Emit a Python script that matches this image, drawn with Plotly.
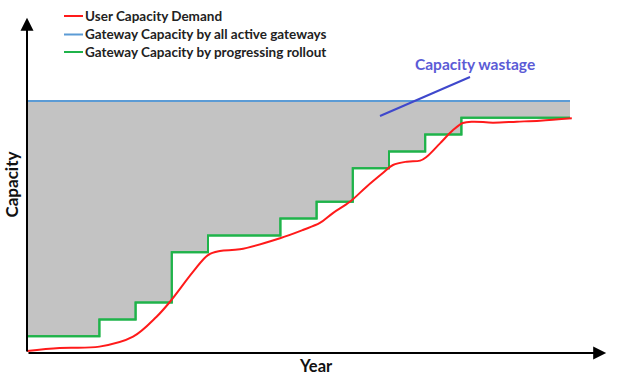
import plotly.graph_objects as go

# ---- data (x in years, y in capacity units) ----
rollout_years = [0, 2, 3, 4, 5, 7, 8, 9, 10, 11, 12, 15]
rollout_capacity = [1, 2, 3, 6, 7, 8, 9, 11, 12, 13, 14, 14]

full_years = [0, 15]
full_capacity = [15, 15]

demand_years = [0, 0.9, 2.0, 2.93, 3.58, 3.95, 4.59, 5.0, 5.33, 5.88, 6.99, 7.62, 8.09,
                8.45, 8.92, 9.38, 9.83, 10.11, 10.49, 10.86, 11.04, 11.41, 11.77,
                12.04, 12.32, 12.87, 13.53, 14.17, 15.05]
demand_capacity = [0.12, 0.3, 0.38, 0.97, 2.16, 3.05, 4.84, 5.83, 6.07, 6.17, 6.83, 7.32, 7.74,
                   8.33, 9.0, 9.9, 10.71, 11.19, 11.39, 11.45, 11.68, 12.48, 13.27,
                   13.69, 13.77, 13.71, 13.77, 13.83, 13.97]

legend_labels = ["User Capacity Demand",
                 "Gateway Capacity by all active gateways",
                 "Gateway Capacity by progressing rollout"]

RED = "#ff1a1a"
BLUE = "#5b9bd5"
GREEN = "#1fb34a"
GRAY = "#c3c3c3"

W, H = 622, 378
L, R, T, B = 27, 9, 10, 25
pw, ph = W - L - R, H - T - B


def px(xp):
    return (xp - L) / pw


def py(yp):
    return (H - B - yp) / ph


fig = go.Figure()

# base for the wastage fill
fig.add_trace(go.Scatter(x=rollout_years, y=rollout_capacity, mode="lines",
                         line=dict(color=GREEN, width=2, shape="hv"),
                         hoverinfo="skip", showlegend=False))
fig.add_trace(go.Scatter(x=full_years, y=full_capacity, mode="lines",
                         line=dict(color=BLUE, width=2), fill="tonexty",
                         fillcolor=GRAY, name=legend_labels[1], showlegend=False))
fig.add_trace(go.Scatter(x=rollout_years, y=rollout_capacity, mode="lines",
                         line=dict(color=GREEN, width=2, shape="hv"),
                         name=legend_labels[2], showlegend=False))
fig.add_trace(go.Scatter(x=demand_years, y=demand_capacity, mode="lines",
                         line=dict(color=RED, width=2, shape="spline", smoothing=1.0),
                         name=legend_labels[0], showlegend=False))

xmax = pw / 36.2
ymax = ph / 16.8

annotations = []
# axis arrows
annotations.append(dict(x=16.0, y=0, ax=0, ay=0, xref="x", yref="y", axref="x", ayref="y",
                        text="", showarrow=True, arrowhead=2, arrowsize=1.3, arrowwidth=2,
                        arrowcolor="black"))
annotations.append(dict(x=0, y=19.95, ax=0, ay=0, xref="x", yref="y", axref="x", ayref="y",
                        text="", showarrow=True, arrowhead=2, arrowsize=1.3, arrowwidth=2,
                        arrowcolor="black"))

# axis titles
annotations.append(dict(x=px(316), y=py(366), xref="paper", yref="paper", text="<b>Year</b>",
                        xanchor="center", yanchor="middle", showarrow=False,
                        font=dict(family="Lato", size=16.5, color="#111111")))
annotations.append(dict(x=px(11), y=py(184.5), xref="paper", yref="paper", text="<b>Capacity</b>",
                        xanchor="center", yanchor="middle", textangle=-90, showarrow=False,
                        font=dict(family="Lato", size=17, color="#111111")))

# wastage label
annotations.append(dict(x=px(475), y=py(64), xref="paper", yref="paper",
                        text="<b>Capacity wastage</b>", xanchor="center", yanchor="middle",
                        showarrow=False,
                        font=dict(family="Lato", size=15.5, color="#5b5bd6")))

shapes = [dict(type="line", xref="paper", yref="paper", x0=px(380), y0=py(116),
               x1=px(470), y1=py(77), line=dict(color="#3f48cc", width=2))]

# manual legend
leg_colors = [RED, BLUE, GREEN]
leg_rows = [16, 34.5, 52]
for lab, col, ry in zip(legend_labels, leg_colors, leg_rows):
    shapes.append(dict(type="line", xref="paper", yref="paper", x0=px(64), x1=px(83),
                       y0=py(ry), y1=py(ry), line=dict(color=col, width=2)))
    annotations.append(dict(x=px(83), y=py(ry), xref="paper", yref="paper", text="<b>" + lab + "</b>",
                            xanchor="left", yanchor="middle", showarrow=False,
                            font=dict(family="Lato", size=13.5, color="#222222")))

fig.update_layout(
    width=W, height=H,
    margin=dict(l=L, r=R, t=T, b=B, autoexpand=False),
    paper_bgcolor="white", plot_bgcolor="white",
    xaxis=dict(range=[0, xmax], visible=False, fixedrange=True),
    yaxis=dict(range=[0, ymax], visible=False, fixedrange=True),
    annotations=annotations, shapes=shapes,
    showlegend=False,
)

fig.write_html("out.html", config={"displayModeBar": False},
               post_script="document.body.style.margin='0';document.body.style.overflow='hidden';")
